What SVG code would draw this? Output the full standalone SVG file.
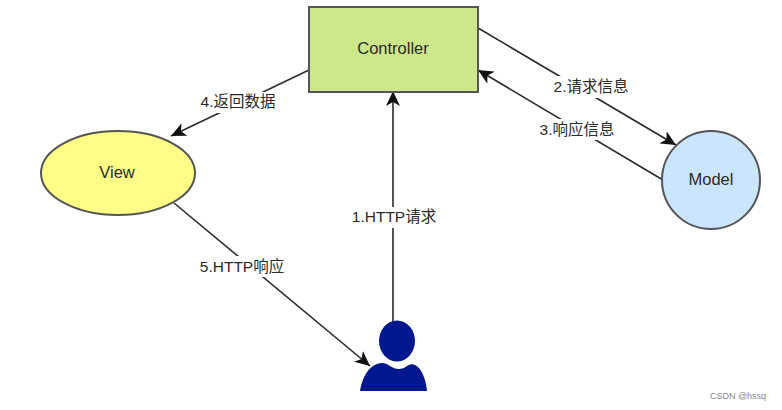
<svg xmlns="http://www.w3.org/2000/svg" width="782" height="410" viewBox="0 0 782 410">
  <style>
    .shape { stroke: #555; stroke-width: 2; }
    .line { fill: none; stroke: #2a2a2a; stroke-width: 1.6; marker-end: url(#head); }
    text { font-family: "Liberation Sans", "Noto Sans CJK SC", sans-serif; font-size: 16.5px; fill: #2a2a2a; text-anchor: middle; }
    .edge { font-size: 15.5px; }
    .mask { fill: #fff; }
  </style>
  <defs>
    <marker id="head" markerUnits="userSpaceOnUse" markerWidth="16" markerHeight="14" refX="15" refY="7" orient="auto">
      <path d="M0 0 L15 7 L0 14 L4 7 Z" fill="#111"/>
    </marker>
  </defs>
  <rect width="782" height="410" fill="#fff"/>

  <g id="connectors">
    <line class="line" x1="393" y1="322" x2="393" y2="91"/>
    <line class="line" x1="478" y1="28" x2="676" y2="145"/>
    <line class="line" x1="663" y1="180" x2="478" y2="70"/>
    <line class="line" x1="309" y1="70" x2="171" y2="136"/>
    <line class="line" x1="174" y1="203" x2="370" y2="366"/>
  </g>

  <g id="controller">
    <rect class="shape" x="309" y="7" width="169" height="85" fill="#cde88b"/>
    <text x="393" y="54">Controller</text>
  </g>
  <g id="view">
    <ellipse class="shape" cx="118" cy="173" rx="77" ry="42" fill="#ffff88"/>
    <text x="117" y="178">View</text>
  </g>
  <g id="model">
    <circle class="shape" cx="711" cy="180" r="49" fill="#cce5ff"/>
    <text x="711" y="185">Model</text>
  </g>
  <g id="user">
    <ellipse cx="397" cy="341" rx="18" ry="20.5" fill="#00188f"/>
    <path d="M360 391 C362 378 368 367 377 364 C382 362 386 363 390 366 C396 370 402 370 407 366 C411 363 415 364 418 367 C423 372 426 381 427 391 Z" fill="#00188f"/>
  </g>

  <g id="labels">
    <rect class="mask" x="553" y="76" width="76" height="22"/>
    <text class="edge" x="591" y="92">2.请求信息</text>
    <rect class="mask" x="538" y="119" width="80" height="21"/>
    <text class="edge" x="577" y="135">3.响应信息</text>
    <rect class="mask" x="198" y="92" width="80" height="21"/>
    <text class="edge" x="238" y="107">4.返回数据</text>
    <rect class="mask" x="350" y="207" width="88" height="21"/>
    <text class="edge" x="394" y="222">1.HTTP请求</text>
    <rect class="mask" x="196" y="256" width="92" height="21"/>
    <text class="edge" x="242" y="272">5.HTTP响应</text>
    <text x="738" y="399" style="font-size:9px;fill:#888">CSDN @hssq</text>
  </g>
</svg>
